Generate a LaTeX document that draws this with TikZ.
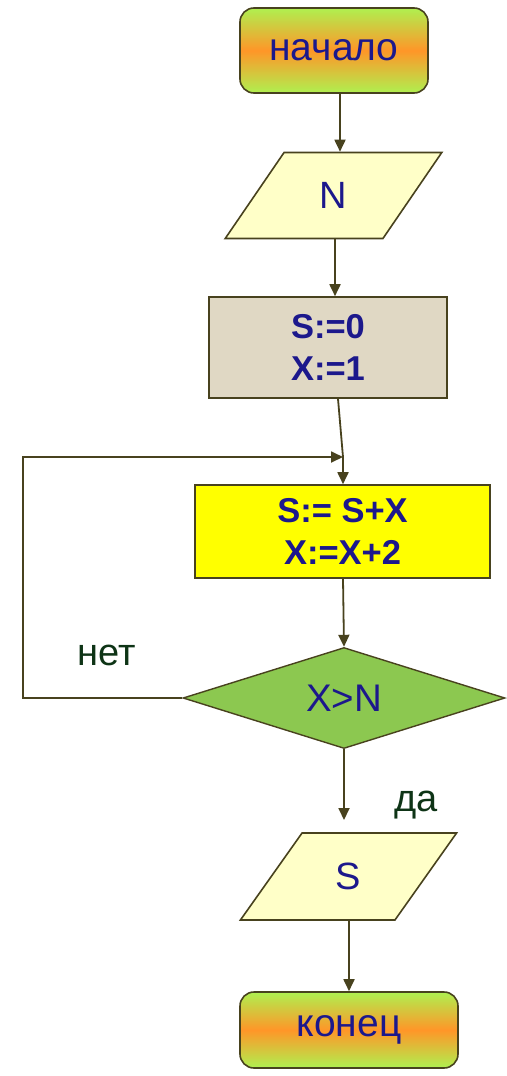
\documentclass[tikz,border=0pt]{standalone}
\usepackage{fontspec}
\setmainfont{Liberation Sans}
\usetikzlibrary{shapes.geometric,arrows.meta}
\definecolor{linec}{RGB}{72,66,30}
\definecolor{txtblue}{RGB}{28,24,140}
\definecolor{txtgreen}{RGB}{14,52,22}
\definecolor{termgreen}{RGB}{175,240,80}
\definecolor{termorange}{RGB}{255,150,40}
\definecolor{paral}{RGB}{255,255,200}
\definecolor{beige}{RGB}{224,216,196}
\definecolor{yel}{RGB}{255,255,0}
\definecolor{dgreen}{RGB}{140,200,80}
\tikzset{
  term/.style={draw=linec, line width=1.6pt, rounded corners=14pt, top color=termgreen, bottom color=termgreen, middle color=termorange, text=txtblue, font=\fontsize{39}{40}\selectfont, inner sep=0pt},
  io/.style={draw=linec, line width=1.6pt, trapezium, trapezium left angle=58, trapezium right angle=122, trapezium stretches=true, fill=paral, text=txtblue, font=\fontsize{38}{40}\selectfont, inner sep=0pt},
  proc/.style={draw=linec, line width=1.6pt, text=txtblue, font=\bfseries\fontsize{34.5}{42}\selectfont, align=center, inner sep=0pt},
  dec/.style={draw=linec, line width=1.4pt, diamond, fill=dgreen, text=txtblue, font=\fontsize{38.5}{40}\selectfont, inner sep=0pt},
  conn/.style={draw=linec, line width=1.8pt},
  arr/.style={conn, -{Triangle[length=12pt,width=11pt]}},
  lbl/.style={text=txtgreen, font=\fontsize{38}{40}\selectfont, inner sep=0pt}
}
\begin{document}
\begin{tikzpicture}[x=1pt,y=-1pt]
\useasboundingbox (0,0) rectangle (506,1076);
\node[term, minimum width=188pt, minimum height=85pt] (start) at (334,50.5) {начало};
\node[io, minimum width=217pt, minimum height=86pt] (inN) at (333.5,195.5) {N};
\node[proc, fill=beige, minimum width=238pt, minimum height=101pt] (init) at (328,347.5) {S:=0\\X:=1};
\node[proc, fill=yel, minimum width=295pt, minimum height=93pt] (body) at (342.5,531.5) {S:= S+X\\X:=X+2};
\node[dec, minimum width=322pt, minimum height=101pt, aspect=3.19] (cond) at (344,698) {X>N};
\node[io, minimum width=217pt, minimum height=87pt] (outS) at (348.5,876.5) {S};
\node[term, minimum width=218pt, minimum height=76pt] (stop) at (349,1030) {конец};
\node[lbl] (no) at (107,655) {нет};
\node[lbl] (yes) at (416,805) {да};
\coordinate (j) at (343,457);
\coordinate (lt) at (23,457);
\draw[arr] (start.south -| 340,0) -- (inN.north -| 340,0);
\draw[arr] (inN.south -| 335,0) -- (init.north -| 335,0);
\draw[conn] (init.south -| 338,0) -- (j);
\draw[arr] (j) -- (body.north -| j);
\draw[arr] (cond.west) -- (cond.west -| lt) -- (lt) -- (j);
\draw[arr] (body.south -| 343,0) -- (cond.north);
\draw[arr] (cond.south) -- (344,820);
\draw[arr] (outS.south -| 349,0) -- (stop.north -| 349,0);
\end{tikzpicture}
\end{document}
